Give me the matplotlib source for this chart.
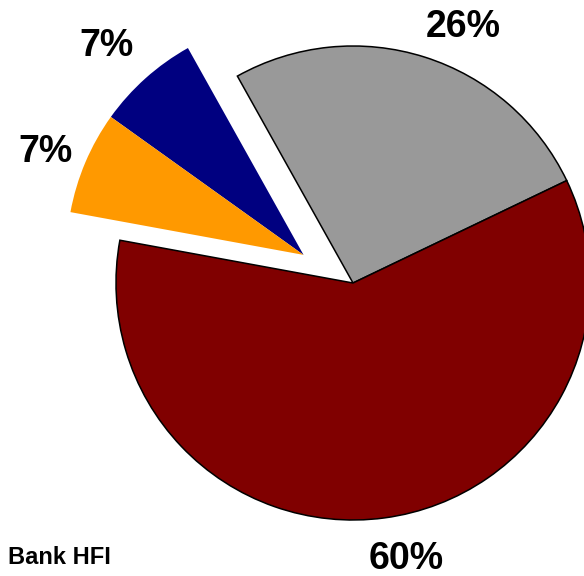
import numpy as np
import matplotlib
matplotlib.use("Agg")
import matplotlib.pyplot as plt

# Slice data (counter-clockwise from the start angle)
categories = ["Gray", "Navy", "Orange", "Red"]
values = [26, 7, 7, 60]
labels = ["26%", "7%", "7%", "60%"]
colors = ["#999999", "#000080", "#FF9900", "#800000"]
exploded = [False, True, True, False]

# Label placement: radial distance (in radii) and angular nudge (degrees)
label_dist = [1.187, 1.219, 1.176, 1.173]
label_nudge = [-5.4, 1.1, 0.6, 3.5]

W, H = 584, 576
fig = plt.figure(figsize=(W / 100, H / 100), dpi=100)
ax = fig.add_axes([0, 0, 1, 1])

R = 237
cx, cy = 353, 293
wedges, _ = ax.pie(values, colors=colors, startangle=25.6, counterclock=True,
                   radius=R, center=(cx, cy), frame=True,
                   wedgeprops=dict(linewidth=1.1, edgecolor="black"))

# Pull the exploded slices out together along the bisector of the group
grp = [w for w, e in zip(wedges, exploded) if e]
t0 = min(w.theta1 for w in grp)
t1 = max(w.theta2 for w in grp)
mid = np.deg2rad((t0 + t1) / 2 + 6)
shift = 0.24 * R
for w, e in zip(wedges, exploded):
    if e:
        w.set_center((cx + shift * np.cos(mid), cy + shift * np.sin(mid)))
        w.set_edgecolor("none")

for w, lab, d, nud in zip(wedges, labels, label_dist, label_nudge):
    th = np.deg2rad((w.theta1 + w.theta2) / 2 + nud)
    px, py = w.center
    ax.text(px + R * d * np.cos(th), py + R * d * np.sin(th) - 3, lab,
            ha="center", va="center", fontsize=27, fontweight="bold",
            family="Liberation Sans")

ax.text(8, 18, "Bank HFI", ha="left", va="center", fontsize=17,
        fontweight="bold", family="Liberation Sans")

ax.set_xlim(0, W)
ax.set_ylim(0, H)
ax.axis("off")
fig.savefig("out.png", dpi=100)
